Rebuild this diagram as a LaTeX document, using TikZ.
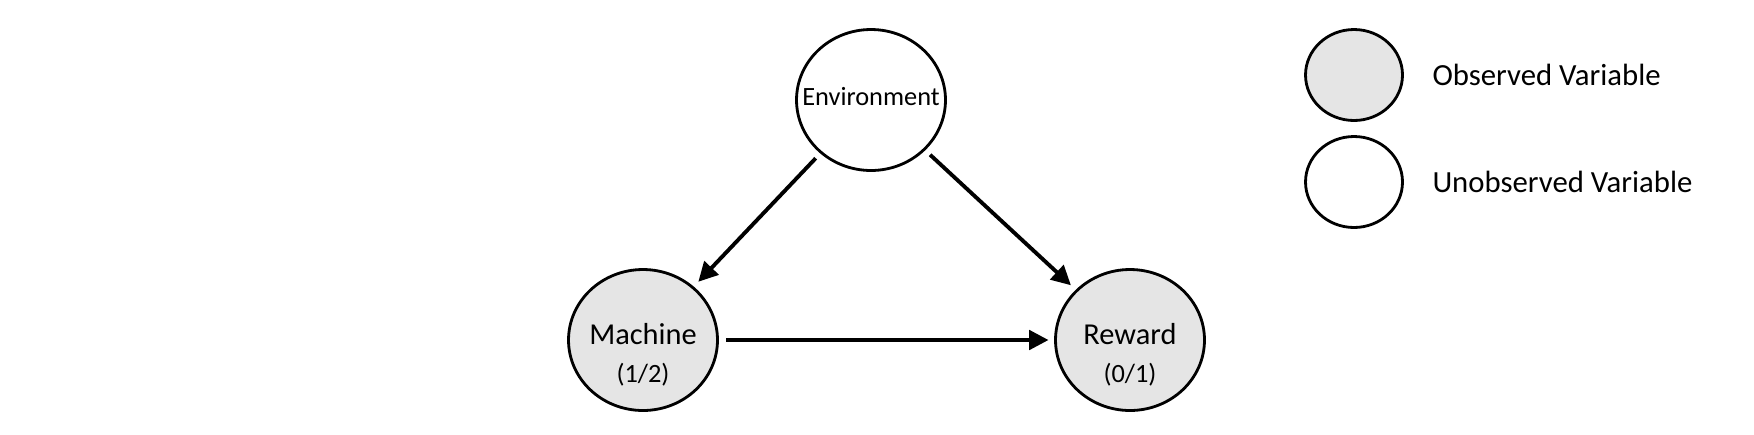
\documentclass[tikz,border=0pt]{standalone}
\usepackage{fontspec}
\setmainfont{Carlito}
\usepackage{tikz}
\usetikzlibrary{shapes.geometric}
\usetikzlibrary{arrows.meta}
\usetikzlibrary{positioning}
\tikzset{
% Define standard arrow tip
>={Triangle[length=11pt, width=11pt]}
}
\tikzset{
  var/.style={ellipse, draw=black, line width=1.6pt,
    minimum width=2.98cm, minimum height=2.82cm},
  obsvar/.style={var, fill=gray!20},
  legvar/.style={ellipse, draw=black, line width=1.6pt,
    minimum width=1.94cm, minimum height=1.82cm},
  edge/.style={->, line width=2.2pt, shorten <=0.16cm, shorten >=0.16cm},
  bigtext/.style={font=\fontsize{17.3}{21.6}\selectfont},
  legtext/.style={font=\fontsize{17.5}{21}\selectfont}
}

\begin{document}
\begin{tikzpicture}[x=0.02cm, y=-0.02cm, inner sep=0, outer sep=0]
  \useasboundingbox (0,0) rectangle (1754,434);

  % graph
  \node[var] (env) at (871,100) {};
  \node[obsvar] (mach) at (643,340) {};
  \node[obsvar] (rew) at (1130,340) {};

  \node[font=\fontsize{15}{18}\selectfont] (envtxt) at ([yshift=0.06cm]env.center) {Environment};
  \node[bigtext, align=center] (machtxt) at ([yshift=-0.3cm]mach.center)
    {Machine\\{\fontsize{15}{21.6}\selectfont (1/2)}};
  \node[bigtext, align=center] (rewtxt) at ([yshift=-0.3cm]rew.center)
    {Reward\\{\fontsize{15}{21.6}\selectfont (0/1)}};

  \draw[edge] (env) -- (mach);
  \draw[edge] (env) -- (rew);
  \draw[edge, shorten <=0.18cm, shorten >=0.14cm] (mach) -- (rew);

  % legend
  \node[legvar, fill=gray!20] (obsleg) at (1354,75) {};
  \node[legvar] (unobsleg) at (1354,182) {};
  \node[legtext, right=0.6cm of obsleg] (obslegtxt) {Observed Variable};
  \node[legtext, right=0.6cm of unobsleg] (unobslegtxt) {Unobserved Variable};
\end{tikzpicture}
\end{document}
